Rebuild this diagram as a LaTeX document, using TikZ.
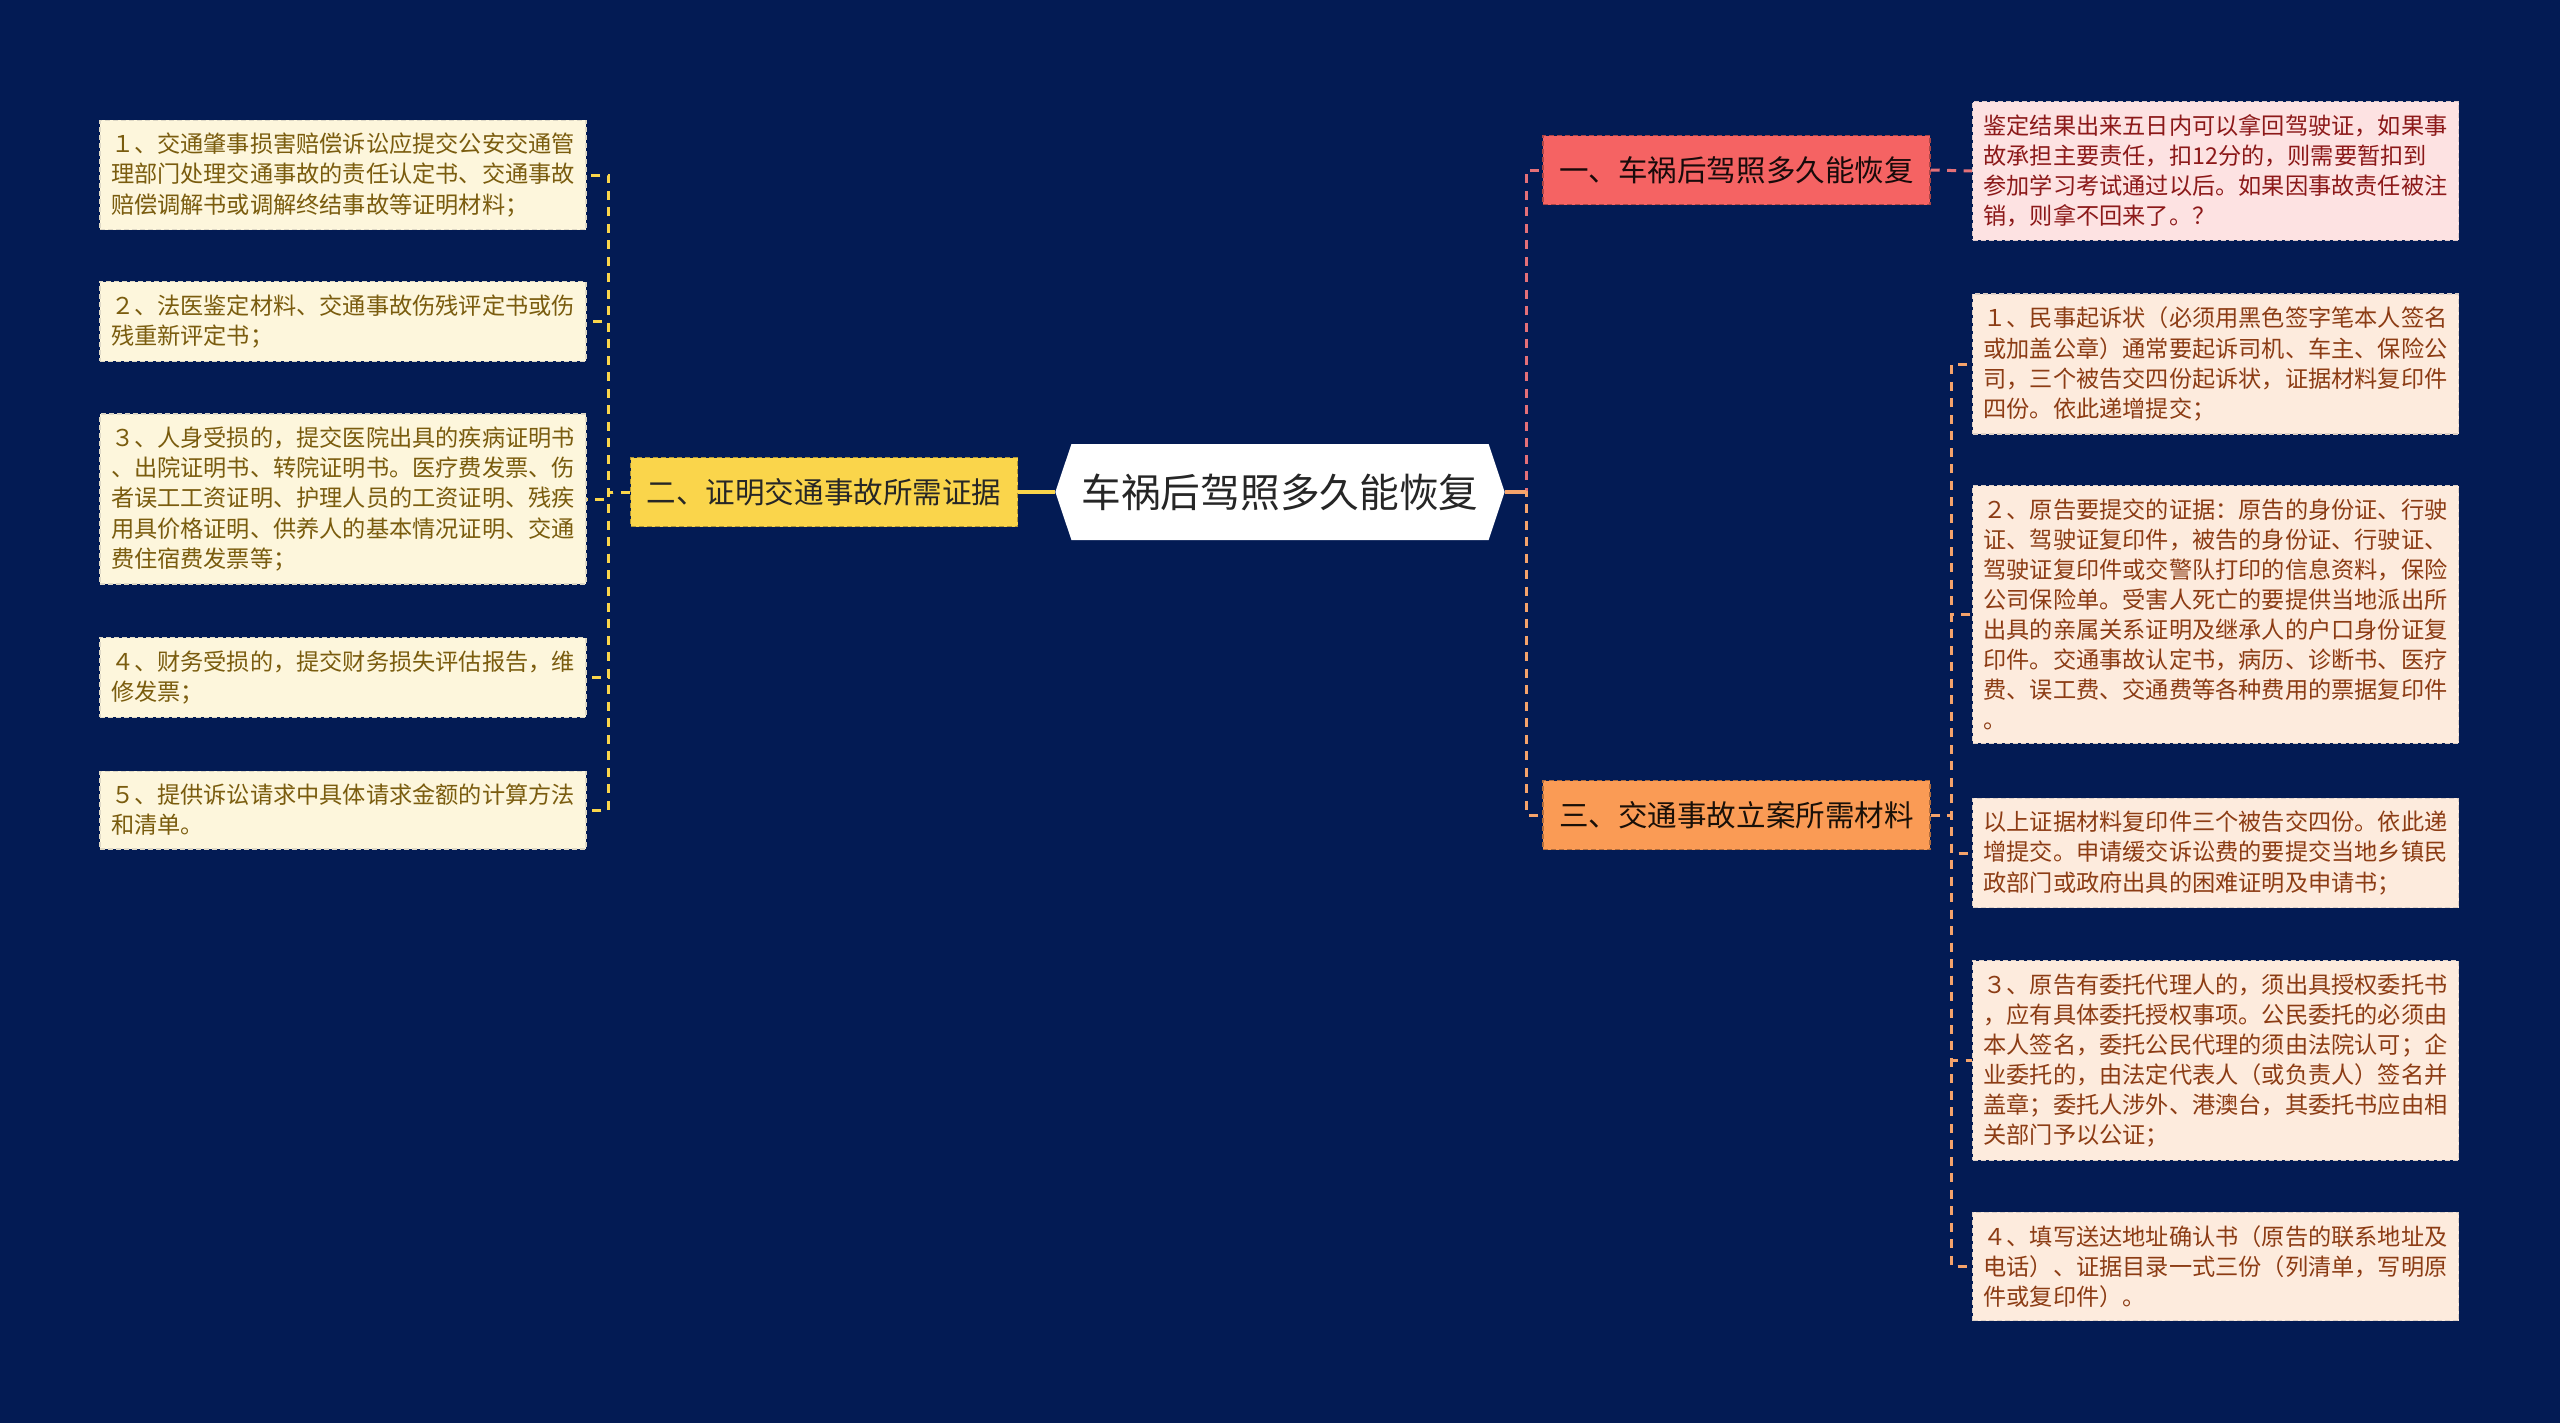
\documentclass[tikz,border=0pt]{standalone}
\usepackage{fontspec}
\setmainfont{Noto Sans CJK SC}
\usetikzlibrary{positioning,shapes.symbols}
\definecolor{BgNavy}    {RGB}{  3, 27, 84}
\definecolor{YellowMain}{RGB}{250,213, 75}
\definecolor{YellowLeaf}{RGB}{253,246,220}
\definecolor{YellowText}{RGB}{122, 92, 14}
\definecolor{RedMain}   {RGB}{245, 99, 99}
\definecolor{RedLeaf}   {RGB}{253,226,226}
\definecolor{RedText}   {RGB}{140, 25, 25}
\definecolor{RedLine}   {RGB}{228,112,120}
\definecolor{OrangeMain}{RGB}{250,155, 85}
\definecolor{OrangeLeaf}{RGB}{253,235,221}
\definecolor{OrangeText}{RGB}{140, 60, 20}
\definecolor{OrangeLine}{RGB}{245,163,107}
\tikzset{
  %% 中心主题
  rootnode/.style={signal,signal to=east and west,signal pointer angle=143,
                   fill=white,minimum width=4.38cm,minimum height=0.96cm,
                   inner xsep=0.1cm,text=black!85,
                   font=\fontsize{11.3pt}{13pt}\selectfont},
  %% 分支方框：黄/红/橙
  mainbox/.style={rectangle,dash pattern=on 0.05cm off 0.03cm,line width=0.4pt,
                  minimum width=3.87cm,minimum height=0.69cm,inner sep=0pt,
                  font=\fontsize{8.4pt}{10pt}\selectfont},
  ybox/.style={mainbox,fill=YellowMain,draw=YellowMain!70!black,text=black!85},
  rbox/.style={mainbox,fill=RedMain,draw=RedMain!70!black,text=RedMain!10!black},
  obox/.style={mainbox,fill=OrangeMain,draw=OrangeMain!70!black,text=OrangeMain!10!black},
  %% 叶子方框
  leafbox/.style={rectangle,dash pattern=on 0.05cm off 0.03cm,line width=0.4pt,
                  text width=4.64cm,inner xsep=0.11cm,inner ysep=0.13cm,align=left,
                  font=\fontsize{6.6pt}{8.55pt}\selectfont},
  yleaf/.style={leafbox,fill=YellowLeaf,draw=YellowLeaf!75!gray,text=YellowText},
  rleaf/.style={leafbox,fill=RedLeaf,draw=RedLeaf!75!gray,text=RedText},
  oleaf/.style={leafbox,fill=OrangeLeaf,draw=OrangeLeaf!75!gray,text=OrangeText},
  %% 连线
  ylink/.style={draw=YellowMain,line width=0.03cm,dash pattern=on 0.09cm off 0.075cm},
  rlink/.style={draw=RedLine,line width=0.03cm,dash pattern=on 0.09cm off 0.075cm},
  olink/.style={draw=OrangeLine,line width=0.03cm,dash pattern=on 0.09cm off 0.075cm},
}
\begin{document}
\begin{tikzpicture}
  \fill[BgNavy] (0,0) rectangle (25.6,-14.23);
  \useasboundingbox (0,0) rectangle (25.6,-14.23);

  \node[rootnode] (ROOT) at (12.80,-4.92) {车祸后驾照多久能恢复};

  % 左侧
  \node[ybox] (B2) at (8.24,-4.92) {二、证明交通事故所需证据};
  \node[yleaf] (L1) at (3.43,-1.75)
    {１、交通肇事损害赔偿诉讼应提交公安交通管\\理部门处理交通事故的责任认定书、交通事故\\赔偿调解书或调解终结事故等证明材料；};
  \node[yleaf] (L2) at (3.43,-3.215)
    {２、法医鉴定材料、交通事故伤残评定书或伤\\残重新评定书；};
  \node[yleaf] (L3) at (3.43,-4.99)
    {３、人身受损的，提交医院出具的疾病证明书\\、出院证明书、转院证明书。医疗费发票、伤\\者误工工资证明、护理人员的工资证明、残疾\\用具价格证明、供养人的基本情况证明、交通\\费住宿费发票等；};
  \node[yleaf] (L4) at (3.43,-6.775)
    {４、财务受损的，提交财务损失评估报告，维\\修发票；};
  \node[yleaf] (L5) at (3.43,-8.10)
    {５、提供诉讼请求中具体请求金额的计算方法\\和清单。};

  % 右侧
  \node[rbox] (B1) at (17.365,-1.70) {一、车祸后驾照多久能恢复};
  \node[obox] (B3) at (17.365,-8.15) {三、交通事故立案所需材料};
  \node[rleaf] (R1) at (22.155,-1.71)
    {鉴定结果出来五日内可以拿回驾驶证，如果事\\故承担主要责任，扣12分的，则需要暂扣到\\参加学习考试通过以后。如果因事故责任被注\\销，则拿不回来了。？};
  \node[oleaf] (R3a) at (22.155,-3.64)
    {１、民事起诉状（必须用黑色签字笔本人签名\\或加盖公章）通常要起诉司机、车主、保险公\\司，三个被告交四份起诉状，证据材料复印件\\四份。依此递增提交；};
  \node[oleaf] (R3b) at (22.155,-6.145)
    {２、原告要提交的证据：原告的身份证、行驶\\证、驾驶证复印件，被告的身份证、行驶证、\\驾驶证复印件或交警队打印的信息资料，保险\\公司保险单。受害人死亡的要提供当地派出所\\出具的亲属关系证明及继承人的户口身份证复\\印件。交通事故认定书，病历、诊断书、医疗\\费、误工费、交通费等各种费用的票据复印件\\。};
  \node[oleaf] (R3c) at (22.155,-8.53)
    {以上证据材料复印件三个被告交四份。依此递\\增提交。申请缓交诉讼费的要提交当地乡镇民\\政部门或政府出具的困难证明及申请书；};
  \node[oleaf] (R3d) at (22.155,-10.605)
    {３、原告有委托代理人的，须出具授权委托书\\，应有具体委托授权事项。公民委托的必须由\\本人签名，委托公民代理的须由法院认可；企\\业委托的，由法定代表人（或负责人）签名并\\盖章；委托人涉外、港澳台，其委托书应由相\\关部门予以公证；};
  \node[oleaf] (R3e) at (22.155,-12.665)
    {４、填写送达地址确认书（原告的联系地址及\\电话）、证据目录一式三份（列清单，写明原\\件或复印件）。};

  \draw[draw=YellowMain,line width=0.04cm] (B2.east) -- (ROOT.west);
  \foreach \leaf in {L1,L2,L3,L4,L5}
    \draw[ylink] (B2.west) -- ++(-0.21,0) |- (\leaf.east);

  \draw[rlink] (ROOT.east) -- ++(0.21,0) |- (B1.west);
  \draw[olink] (ROOT.east) -- ++(0.21,0) |- (B3.west);
  \draw[draw=OrangeLine,line width=0.04cm] (ROOT.east) -- ++(0.21,0);
  \draw[rlink] (B1.east) -- (R1.west);
  \foreach \leaf in {R3a,R3b,R3c,R3d,R3e}
    \draw[olink] (B3.east) -- ++(0.21,0) |- (\leaf.west);
\end{tikzpicture}
\end{document}
